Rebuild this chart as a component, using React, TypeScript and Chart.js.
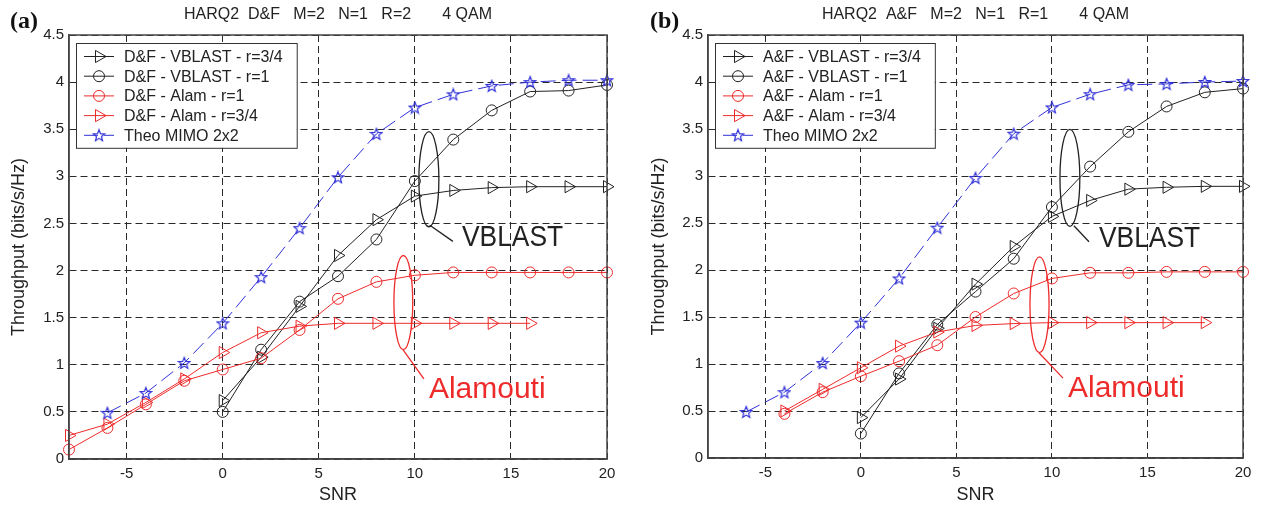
import React, { useEffect, useRef } from 'react';
import { Chart, registerables } from 'chart.js';
Chart.register(...registerables);

const FONT = '"Liberation Sans", Arial, Helvetica, sans-serif';

// ---------- tick values ----------
const X_TICKS = [-5, 0, 5, 10, 15, 20];
const Y_TICKS = [0, 0.5, 1, 1.5, 2, 2.5, 3, 3.5, 4, 4.5];

// ---------- panel (a): D&F ----------
const A_THEO_X = [-6, -4, -2, 0, 2, 4, 6, 8, 10, 12, 14, 16, 18, 20];
const A_THEO = [0.49, 0.70, 1.02, 1.44, 1.93, 2.45, 2.99, 3.45, 3.73, 3.87, 3.96, 4.00, 4.02, 4.02];
const A_VB_X = [0, 2, 4, 6, 8, 10, 12, 14, 16, 18, 20];
const A_VB34 = [0.62, 1.08, 1.62, 2.16, 2.54, 2.79, 2.85, 2.88, 2.89, 2.89, 2.89];
const A_VB1 = [0.50, 1.16, 1.67, 1.94, 2.33, 2.95, 3.39, 3.70, 3.90, 3.91, 3.97];
const A_AL1_X = [-8, -6, -4, -2, 0, 2, 4, 6, 8, 10, 12, 14, 16, 18, 20];
const A_AL1 = [0.10, 0.33, 0.58, 0.83, 0.95, 1.07, 1.37, 1.70, 1.88, 1.95, 1.98, 1.98, 1.98, 1.98, 1.98];
const A_AL34_X = [-8, -6, -4, -2, 0, 2, 4, 6, 8, 10, 12, 14, 16];
const A_AL34 = [0.25, 0.37, 0.60, 0.85, 1.13, 1.34, 1.41, 1.44, 1.44, 1.44, 1.44, 1.44, 1.44];

// ---------- panel (b): A&F ----------
const B_THEO_X = [-6, -4, -2, 0, 2, 4, 6, 8, 10, 12, 14, 16, 18, 20];
const B_THEO = [0.49, 0.70, 1.01, 1.44, 1.91, 2.45, 2.98, 3.45, 3.73, 3.87, 3.97, 3.98, 4.00, 4.01];
const B_VB_X = [0, 2, 4, 6, 8, 10, 12, 14, 16, 18, 20];
const B_VB34 = [0.43, 0.84, 1.38, 1.85, 2.25, 2.57, 2.74, 2.86, 2.88, 2.89, 2.89];
const B_VB1 = [0.26, 0.90, 1.42, 1.77, 2.12, 2.67, 3.10, 3.47, 3.74, 3.89, 3.93];
const B_AL1_X = [-4, -2, 0, 2, 4, 6, 8, 10, 12, 14, 16, 18, 20];
const B_AL1 = [0.47, 0.70, 0.87, 1.03, 1.20, 1.50, 1.75, 1.91, 1.97, 1.97, 1.98, 1.98, 1.98];
const B_AL34_X = [-4, -2, 0, 2, 4, 6, 8, 10, 12, 14, 16, 18];
const B_AL34 = [0.50, 0.73, 0.96, 1.19, 1.34, 1.41, 1.43, 1.44, 1.44, 1.44, 1.44, 1.44];

const BLACK = '#222222';
const RED = '#ee2b2b';
const BLUE = '#3030d8';

function makeStar(color: string): HTMLCanvasElement {
  const c = document.createElement('canvas');
  c.width = 14;
  c.height = 14;
  const g = c.getContext('2d')!;
  g.strokeStyle = color;
  g.lineWidth = 1.2;
  g.beginPath();
  for (let i = 0; i < 10; i++) {
    const r = i % 2 === 0 ? 6 : 2.6;
    const ang = -Math.PI / 2 + (i * Math.PI) / 5;
    const px = 7 + r * Math.cos(ang);
    const py = 7.5 + r * Math.sin(ang);
    if (i === 0) g.moveTo(px, py);
    else g.lineTo(px, py);
  }
  g.closePath();
  g.stroke();
  return c;
}

function pts(xs: number[], ys: number[]) {
  return xs.map((x, i) => ({ x, y: ys[i] }));
}

type Series = {
  theoX: number[]; theo: number[];
  vbX: number[]; vb34: number[]; vb1: number[];
  al1X: number[]; al1: number[];
  al34X: number[]; al34: number[];
};

type Annot = {
  color: string;
  ellipse: [number, number, number, number]; // cx, cy, rx, ry in data units
  line: [number, number, number, number];
  text: string;
  textAt: [number, number]; // left, baseline
  scaleX: number;
};

type PanelCfg = {
  left: number; width: number; padRight: number; yAxisWidth: number; xAxisHeight: number;
  tag: string; title: string; prefix: string; series: Series; annotations: Annot[];
};

const PANEL_A: PanelCfg = {
  left: 0, width: 640, padRight: 33, yAxisWidth: 69, xAxisHeight: 48,
  tag: '(a)', title: 'HARQ2  D&F   M=2   N=1   R=2       4 QAM', prefix: 'D&F',
  series: { theoX: A_THEO_X, theo: A_THEO, vbX: A_VB_X, vb34: A_VB34, vb1: A_VB1, al1X: A_AL1_X, al1: A_AL1, al34X: A_AL34_X, al34: A_AL34 },
  annotations: [
    { color: BLACK, ellipse: [10.73, 2.97, 0.52, 0.505], line: [10.78, 2.48, 11.98, 2.31], text: 'VBLAST', textAt: [12.45, 2.26], scaleX: 0.88 },
    { color: RED, ellipse: [9.4, 1.66, 0.49, 0.5], line: [9.38, 1.16, 10.47, 0.85], text: 'Alamouti', textAt: [10.73, 0.65], scaleX: 1.0 },
  ],
};

const PANEL_B: PanelCfg = {
  left: 640, width: 621, padRight: 18, yAxisWidth: 68, xAxisHeight: 49,
  tag: '(b)', title: 'HARQ2  A&F   M=2   N=1   R=1       4 QAM', prefix: 'A&F',
  series: { theoX: B_THEO_X, theo: B_THEO, vbX: B_VB_X, vb34: B_VB34, vb1: B_VB1, al1X: B_AL1_X, al1: B_AL1, al34X: B_AL34_X, al34: B_AL34 },
  annotations: [
    { color: BLACK, ellipse: [10.94, 2.98, 0.52, 0.516], line: [11.15, 2.47, 11.94, 2.30], text: 'VBLAST', textAt: [12.46, 2.245], scaleX: 0.88 },
    { color: RED, ellipse: [9.35, 1.63, 0.5, 0.51], line: [9.32, 1.12, 10.58, 0.85], text: 'Alamouti', textAt: [10.84, 0.65], scaleX: 1.0 },
  ],
};

function drawMarker(ctx: CanvasRenderingContext2D, kind: string, x: number, y: number, color: string, star: HTMLCanvasElement) {
  ctx.save();
  ctx.setLineDash([]);
  ctx.strokeStyle = color;
  ctx.lineWidth = 1;
  if (kind === 'circle') {
    ctx.beginPath();
    ctx.arc(x, y, 5.5, 0, Math.PI * 2);
    ctx.stroke();
  } else if (kind === 'triangle') {
    const r = 7;
    let rad = Math.PI / 2;
    ctx.beginPath();
    ctx.moveTo(x + Math.sin(rad) * r, y - Math.cos(rad) * r);
    rad += (2 * Math.PI) / 3;
    ctx.lineTo(x + Math.sin(rad) * r, y - Math.cos(rad) * r);
    rad += (2 * Math.PI) / 3;
    ctx.lineTo(x + Math.sin(rad) * r, y - Math.cos(rad) * r);
    ctx.closePath();
    ctx.stroke();
  } else {
    ctx.drawImage(star, x - star.width / 2, y - star.height / 2);
  }
  ctx.restore();
}

function Panel({ cfg }: { cfg: PanelCfg }) {
  const ref = useRef<HTMLCanvasElement | null>(null);
  useEffect(() => {
    const star = makeStar(BLUE);
    const s = cfg.series;
    const legendItems = [
      { label: `${cfg.prefix} - VBLAST - r=3/4`, color: BLACK, kind: 'triangle', dash: [] as number[] },
      { label: `${cfg.prefix} - VBLAST - r=1`, color: BLACK, kind: 'circle', dash: [] as number[] },
      { label: `${cfg.prefix} - Alam - r=1`, color: RED, kind: 'circle', dash: [] as number[] },
      { label: `${cfg.prefix} - Alam - r=3/4`, color: RED, kind: 'triangle', dash: [] as number[] },
      { label: 'Theo MIMO 2x2', color: BLUE, kind: 'star', dash: [14, 6] },
    ];
    const common = { borderWidth: 1, backgroundColor: 'transparent', pointBorderWidth: 1, showLine: true, clip: false as const, tension: 0 };
    const datasets: any[] = [
      { ...common, label: legendItems[4].label, data: pts(s.theoX, s.theo), borderColor: BLUE, pointBorderColor: BLUE, borderDash: [15, 6], pointStyle: star, pointRadius: 6 },
      { ...common, label: legendItems[3].label, data: pts(s.al34X, s.al34), borderColor: RED, pointBorderColor: RED, pointStyle: 'triangle', rotation: 90, pointRadius: 7 },
      { ...common, label: legendItems[2].label, data: pts(s.al1X, s.al1), borderColor: RED, pointBorderColor: RED, pointStyle: 'circle', pointRadius: 5.5 },
      { ...common, label: legendItems[1].label, data: pts(s.vbX, s.vb1), borderColor: BLACK, pointBorderColor: BLACK, pointStyle: 'circle', pointRadius: 5.5 },
      { ...common, label: legendItems[0].label, data: pts(s.vbX, s.vb34), borderColor: BLACK, pointBorderColor: BLACK, pointStyle: 'triangle', rotation: 90, pointRadius: 7 },
    ];

    const decor = {
      id: 'decor' + cfg.tag,
      afterDraw(chart: any) {
        const { ctx, chartArea: a } = chart;
        const xs = chart.scales.x;
        const ys = chart.scales.y;
        ctx.save();
        ctx.setLineDash([]);
        // annotations
        for (const an of cfg.annotations) {
          const cx = xs.getPixelForValue(an.ellipse[0]);
          const cy = ys.getPixelForValue(an.ellipse[1]);
          const rx = Math.abs(xs.getPixelForValue(an.ellipse[0] + an.ellipse[2]) - cx);
          const ry = Math.abs(ys.getPixelForValue(an.ellipse[1] + an.ellipse[3]) - cy);
          ctx.strokeStyle = an.color;
          ctx.lineWidth = 1.3;
          ctx.beginPath();
          ctx.ellipse(cx, cy, rx, ry, 0, 0, Math.PI * 2);
          ctx.stroke();
          ctx.beginPath();
          ctx.moveTo(xs.getPixelForValue(an.line[0]), ys.getPixelForValue(an.line[1]));
          ctx.lineTo(xs.getPixelForValue(an.line[2]), ys.getPixelForValue(an.line[3]));
          ctx.stroke();
          ctx.save();
          ctx.translate(xs.getPixelForValue(an.textAt[0]), ys.getPixelForValue(an.textAt[1]));
          ctx.scale(an.scaleX, 1);
          ctx.fillStyle = an.color;
          ctx.font = `30px ${FONT}`;
          ctx.textAlign = 'left';
          ctx.textBaseline = 'alphabetic';
          ctx.fillText(an.text, 0, 0);
          ctx.restore();
        }
        // box
        ctx.strokeStyle = '#444';
        ctx.lineWidth = 1.5;
        ctx.strokeRect(a.left, a.top, a.right - a.left, a.bottom - a.top);
        // legend
        ctx.font = `16px ${FONT}`;
        let maxW = 0;
        for (const it of legendItems) maxW = Math.max(maxW, ctx.measureText(it.label).width);
        const bx = a.left + 7;
        const by = a.top + 8;
        const bw = 48 + maxW + 14;
        const rowH = 19.7;
        const bh = 13 + rowH * 4 + 13;
        ctx.fillStyle = '#ffffff';
        ctx.fillRect(bx, by, bw, bh);
        ctx.strokeStyle = '#333';
        ctx.lineWidth = 1;
        ctx.strokeRect(bx + 0.5, by + 0.5, bw, bh);
        legendItems.forEach((it, i) => {
          const ry = by + 13.5 + i * rowH;
          ctx.strokeStyle = it.color;
          ctx.lineWidth = 1;
          ctx.setLineDash(it.dash);
          ctx.beginPath();
          ctx.moveTo(bx + 8, ry);
          ctx.lineTo(bx + 38, ry);
          ctx.stroke();
          ctx.setLineDash([]);
          drawMarker(ctx, it.kind, bx + 23, ry, it.color, star);
          ctx.fillStyle = '#222';
          ctx.textAlign = 'left';
          ctx.textBaseline = 'middle';
          ctx.fillText(it.label, bx + 48, ry + 1);
        });
        // title
        const midX = (a.left + a.right) / 2;
        ctx.fillStyle = '#222';
        ctx.font = `16px ${FONT}`;
        ctx.textAlign = 'center';
        ctx.textBaseline = 'middle';
        ctx.fillText(cfg.title, midX, 15);
        // x title
        ctx.font = `18px ${FONT}`;
        ctx.fillText('SNR', midX, 495);
        // y title
        ctx.save();
        ctx.translate(19, (a.top + a.bottom) / 2);
        ctx.rotate(-Math.PI / 2);
        ctx.font = `18px ${FONT}`;
        ctx.fillText('Throughput (bits/s/Hz)', 0, 0);
        ctx.restore();
        // panel tag
        ctx.font = `bold 24px "Liberation Serif", "Times New Roman", serif`;
        ctx.textAlign = 'left';
        ctx.textBaseline = 'alphabetic';
        ctx.fillStyle = '#111';
        ctx.fillText(cfg.tag, 10, 28);
        ctx.restore();
      },
    };

    const chart = new Chart(ref.current!, {
      type: 'line',
      data: { datasets },
      options: {
        responsive: false,
        maintainAspectRatio: false,
        animation: false,
        devicePixelRatio: 1,
        parsing: false as any,
        normalized: true,
        layout: { padding: { top: 35, right: cfg.padRight, left: 0, bottom: 0 } },
        plugins: { legend: { display: false }, tooltip: { enabled: false }, title: { display: false } },
        elements: { line: { tension: 0 } },
        scales: {
          x: {
            type: 'linear',
            min: -8,
            max: 20,
            afterBuildTicks: (sc: any) => { sc.ticks = X_TICKS.map((v) => ({ value: v })); },
            afterFit: (sc: any) => { sc.height = cfg.xAxisHeight; },
            ticks: { color: '#222', font: { family: FONT, size: 15 }, padding: 6, callback: (v: any) => String(v), maxRotation: 0, autoSkip: false },
            grid: { color: '#2a2a2a', lineWidth: 1, drawTicks: false },
            border: { display: true, color: '#444', width: 1.5, dash: [7, 4] },
          },
          y: {
            type: 'linear',
            min: 0,
            max: 4.5,
            afterBuildTicks: (sc: any) => { sc.ticks = Y_TICKS.map((v) => ({ value: v })); },
            afterFit: (sc: any) => { sc.width = cfg.yAxisWidth; },
            ticks: { color: '#222', font: { family: FONT, size: 15 }, padding: 5, callback: (v: any) => String(v), autoSkip: false },
            grid: { color: '#2a2a2a', lineWidth: 1, drawTicks: false },
            border: { display: true, color: '#444', width: 1.5, dash: [7, 4] },
          },
        },
      },
      plugins: [decor],
    } as any);
    return () => chart.destroy();
  }, [cfg]);
  return (
    <canvas
      ref={ref}
      width={cfg.width}
      height={507}
      style={{ position: 'absolute', left: cfg.left, top: 0, width: cfg.width, height: 507 }}
    />
  );
}

export default function App() {
  return (
    <div style={{ position: 'fixed', left: 0, top: 0, width: 1261, height: 507, background: '#ffffff', overflow: 'hidden' }}>
      <Panel cfg={PANEL_A} />
      <Panel cfg={PANEL_B} />
    </div>
  );
}
